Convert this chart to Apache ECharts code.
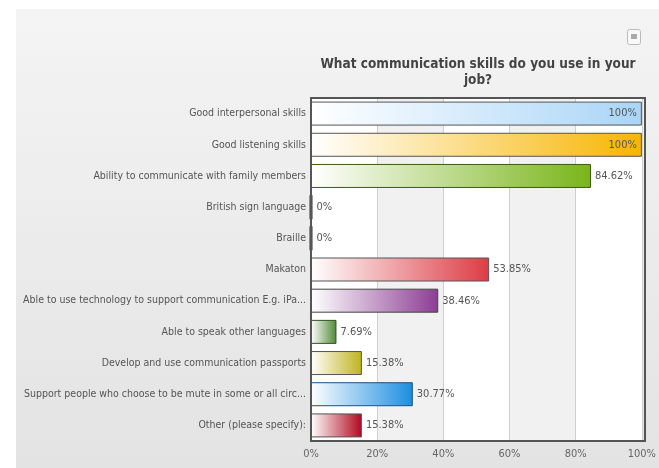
<!DOCTYPE html>
<html>
<head>
<meta charset="utf-8">
<script src="https://cdn.jsdelivr.net/npm/echarts@6/dist/echarts.min.js"></script>
<style>
html,body{margin:0;padding:0;background:#fff;}
#bg{position:absolute;left:16px;top:9px;width:643px;height:459px;background:linear-gradient(#f4f4f4,#e3e3e3);}
#chart{position:absolute;left:0;top:0;width:659px;height:468px;}
</style>
</head>
<body>
<div id="bg"></div>
<div id="chart"></div>
<script>
const titleText = 'What communication skills do you use in your\njob?';
const categories = [
  'Good interpersonal skills',
  'Good listening skills',
  'Ability to communicate with family members',
  'British sign language',
  'Braille',
  'Makaton',
  'Able to use technology to support communication E.g. iPa...',
  'Able to speak other languages',
  'Develop and use communication passports',
  'Support people who choose to be mute in some or all circ...',
  'Other (please specify):'
];
const values = [100, 100, 84.62, 0, 0, 53.85, 38.46, 7.69, 15.38, 30.77, 15.38];
const barColors = ['#a9d5f7', '#f7b500', '#79b51a', '#555555', '#555555', '#dc3c44', '#8c3d93', '#4f8a35', '#bfb31e', '#1b8ee0', '#b0081e'];
const borderColors = ['#555555', '#555555', '#3d5a12', '#333333', '#333333', '#555555', '#444444', '#2f4f22', '#555555', '#1a4f80', '#555555'];
const xTicks = [0, 20, 40, 60, 80, 100];

const chart = echarts.init(document.getElementById('chart'), null, {renderer: 'canvas'});
const fontFam = '"DejaVu Sans Condensed", "DejaVu Sans", sans-serif';
const G = {left: 311, right: 14, top: 98, bottom: 27};

const data = values.map((v, i) => ({
  value: v,
  itemStyle: {
    color: new echarts.graphic.LinearGradient(0, 0, 1, 0, [
      {offset: 0, color: '#ffffff'},
      {offset: 1, color: barColors[i]}
    ]),
    borderColor: borderColors[i],
    borderWidth: v === 0 ? 3 : 1
  },
  label: {position: v >= 100 ? 'insideRight' : 'right', distance: v >= 100 ? 5 : 4}
}));

chart.setOption({
  animation: false,
  backgroundColor: 'transparent',
  title: {
    text: titleText,
    left: 473,
    textAlign: 'center',
    top: 51,
    textStyle: {fontFamily: fontFam, fontWeight: 'bold', fontSize: 13.5, color: '#444', lineHeight: 16}
  },
  grid: {left: G.left, right: G.right, top: G.top, bottom: G.bottom, show: true, backgroundColor: '#fff', borderWidth: 0},
  xAxis: {
    type: 'value', min: 0, max: 100, interval: 20,
    axisLine: {show: false}, axisTick: {show: false},
    axisLabel: {formatter: v => xTicks.includes(v) ? v + '%' : '', color: '#666', fontFamily: fontFam, fontSize: 11, margin: 8},
    splitLine: {show: true, lineStyle: {color: '#cfcfcf', width: 1}},
    splitArea: {show: true, areaStyle: {color: ['#ffffff', '#f1f1f1']}}
  },
  yAxis: {
    type: 'category', data: categories, inverse: true,
    axisLine: {show: false}, axisTick: {show: false},
    axisLabel: {color: '#555', fontFamily: fontFam, fontSize: 10.5, margin: 5},
    splitLine: {show: false}
  },
  series: [{
    type: 'bar',
    data: data,
    barWidth: 24,
    z: 3,
    label: {show: true, formatter: p => p.value + '%', color: '#555', fontFamily: fontFam, fontSize: 11}
  }],
  graphic: [
    {type: 'rect', z: 10, silent: true, shape: {x: G.left, y: G.top, width: 659 - G.left - G.right, height: 468 - G.top - G.bottom}, style: {fill: null, stroke: '#555', lineWidth: 2}},
    {type: 'rect', shape: {x: 627.5, y: 29.5, width: 13, height: 15, r: 2}, style: {fill: '#f8f8f8', stroke: '#bbb', lineWidth: 1}},
    {type: 'rect', shape: {x: 631, y: 34, width: 6, height: 5}, style: {fill: '#aaa'}}
  ]
});
</script>
</body>
</html>
